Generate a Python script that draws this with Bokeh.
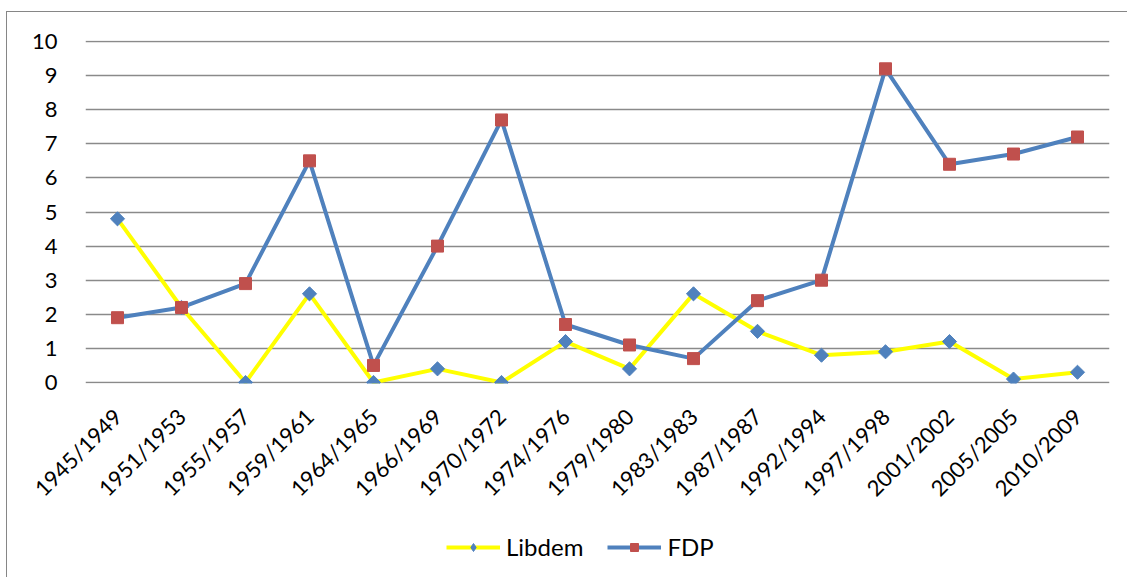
import math
from bokeh.plotting import figure
from bokeh.layouts import column
from bokeh.models import FactorRange, Range1d, Legend, LegendItem, FixedTicker
from bokeh.embed import file_html
from bokeh.resources import INLINE

periods = ["1945/1949", "1951/1953", "1955/1957", "1959/1961", "1964/1965",
           "1966/1969", "1970/1972", "1974/1976", "1979/1980", "1983/1983",
           "1987/1987", "1992/1994", "1997/1998", "2001/2002", "2005/2005",
           "2010/2009"]
libdem = [4.8, 2.2, 0.0, 2.6, 0.0, 0.4, 0.0, 1.2, 0.4, 2.6, 1.5, 0.8, 0.9, 1.2, 0.1, 0.3]
fdp = [1.9, 2.2, 2.9, 6.5, 0.5, 4.0, 7.7, 1.7, 1.1, 0.7, 2.4, 3.0, 9.2, 6.4, 6.7, 7.2]
y_ticks = list(range(0, 11))
series_names = ["Libdem", "FDP"]

FONT = "Lato"
LIB_LINE, LIB_MARK = "#FFFF00", "#4F81BD"
FDP_LINE, FDP_MARK = "#4F81BD", "#C0504D"

p = figure(width=1120, height=505, output_backend="svg", toolbar_location=None,
           x_range=FactorRange(factors=periods, range_padding=0),
           y_range=Range1d(-0.03, 10.03))
p.min_border_left = 78
p.min_border_right = 18
p.min_border_top = 28
p.min_border_bottom = 134
p.outline_line_color = None
p.background_fill_color = "white"
p.border_fill_color = "white"

p.xgrid.grid_line_color = None
p.ygrid.grid_line_color = "#8a8a8a"
p.ygrid.grid_line_width = 1.5
p.yaxis.ticker = FixedTicker(ticks=y_ticks)

for ax in (p.xaxis, p.yaxis):
    ax.axis_line_color = None
    ax.major_tick_line_color = None
    ax.minor_tick_line_color = None
    ax.major_label_text_font = FONT
    ax.major_label_text_font_size = "22px"
    ax.major_label_text_color = "black"

p.yaxis.major_label_standoff = 22
p.xaxis.major_label_orientation = math.pi / 4
p.xaxis.major_label_standoff = 23

p.line(periods, libdem, line_color=LIB_LINE, line_width=4)
p.scatter(periods, libdem, marker="square", angle=math.pi / 4, size=10,
          fill_color=LIB_MARK, line_color=LIB_MARK)
p.line(periods, fdp, line_color=FDP_LINE, line_width=4)
p.scatter(periods, fdp, marker="square", size=12,
          fill_color=FDP_MARK, line_color=FDP_MARK)

# legend strip below the chart (its glyphs mirror the series styles)
lg = figure(width=1120, height=60, output_backend="svg", toolbar_location=None,
            x_range=Range1d(0, 1), y_range=Range1d(0, 1),
            x_axis_type=None, y_axis_type=None)
lg.min_border_left = 78
lg.min_border_right = 18
lg.min_border_top = 11
lg.min_border_bottom = 9
lg.outline_line_color = None
lg.grid.grid_line_color = None
lg.background_fill_color = "white"
lg.border_fill_color = "white"
off = [5, 6]  # outside the strip's ranges: only the legend shows them
r1 = lg.line(off, off, line_color=LIB_LINE, line_width=4)
m1 = lg.scatter(off, off, marker="diamond", size=17,
                fill_color=LIB_MARK, line_color=LIB_MARK)
r2 = lg.line(off, off, line_color=FDP_LINE, line_width=4)
m2 = lg.scatter(off, off, marker="square", size=12,
                fill_color=FDP_MARK, line_color=FDP_MARK)

legend = Legend(items=[LegendItem(label=series_names[0], renderers=[r1, m1]),
                       LegendItem(label=series_names[1], renderers=[r2, m2])],
                orientation="horizontal", location=(361, 7),
                glyph_width=54, glyph_height=20, label_standoff=6, spacing=24,
                padding=0, margin=0, border_line_color=None,
                background_fill_alpha=0,
                label_text_font=FONT, label_text_font_size="24px",
                label_text_color="black")
lg.add_layout(legend, "center")

layout = column(p, lg, spacing=0,
                styles={"border-top": "1px solid #868686",
                        "border-left": "1px solid #868686",
                        "margin-top": "11px", "margin-left": "6px"})

open("out.html", "w").write(file_html(layout, INLINE))
